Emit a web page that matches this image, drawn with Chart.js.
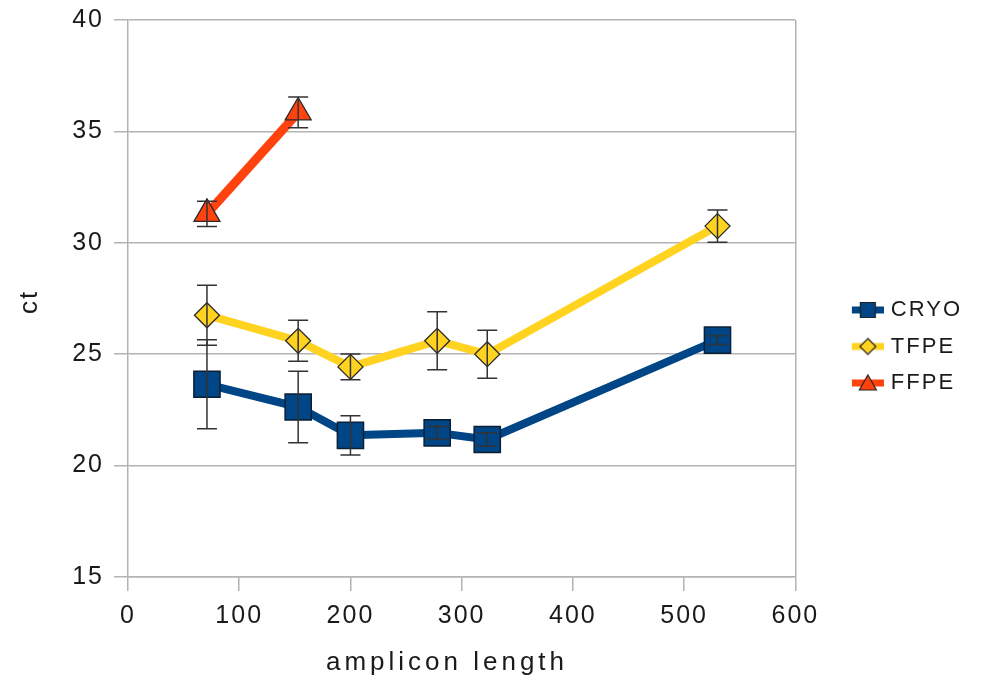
<!DOCTYPE html>
<html>
<head>
<meta charset="utf-8">
<title>ct vs amplicon length</title>
<script src="https://cdn.jsdelivr.net/npm/chart.js@4.4.1/dist/chart.umd.min.js"></script>
<style>
  html, body { margin: 0; padding: 0; background: #ffffff; }
  #wrap { width: 989px; height: 680px; }
</style>
</head>
<body>
<div id="wrap"><canvas id="chart" width="989" height="680"></canvas></div>
<script>
// amplicon lengths (bp) measured for each sample type
const ampliconLength = [71, 153, 200, 278, 323, 530];
const ffpeLength = [71, 153];

// mean ct values and their error (± half-range)
const cryoCt  = [23.65, 22.63, 21.36, 21.47, 21.17, 25.63];
const cryoErr = [2.0, 1.6, 0.88, 0.28, 0.3, 0.2];
const tfpeCt  = [26.75, 25.6, 24.43, 25.6, 25.0, 30.75];
const tfpeErr = [1.35, 0.92, 0.58, 1.3, 1.08, 0.72];
const ffpeCt  = [31.3, 35.85];
const ffpeErr = [0.57, 0.69];

const seriesNames = ['CRYO', 'TFPE', 'FFPE'];
const xTicks = [0, 100, 200, 300, 400, 500, 600];
const yTicks = [15, 20, 25, 30, 35, 40];

const FONT = '"Liberation Sans", Arial, sans-serif';
const INK = '#1a1a1a';
const GRID = '#b3b3b3';
const COLORS = { cryo: '#004586', tfpe: '#ffd320', ffpe: '#ff420e' };

Chart.defaults.font.family = FONT;
Chart.defaults.color = INK;

const toPoints = (xs, ys) => xs.map((x, i) => ({ x: x, y: ys[i] }));

// small line + marker swatch used as the legend symbol
function legendSwatch(color, shape) {
  const cv = document.createElement('canvas');
  cv.width = 78; cv.height = 22;
  const g = cv.getContext('2d');
  g.fillStyle = color;
  g.fillRect(46, 7.5, 32, 7);
  const cx = 62, cy = 11;
  g.beginPath();
  if (shape === 'rect') {
    g.rect(cx - 7.5, cy - 7.5, 15, 15);
  } else if (shape === 'rectRot') {
    g.moveTo(cx, cy - 8); g.lineTo(cx + 8, cy); g.lineTo(cx, cy + 8); g.lineTo(cx - 8, cy); g.closePath();
  } else {
    g.moveTo(cx, cy - 8); g.lineTo(cx + 8.5, cy + 7); g.lineTo(cx - 8.5, cy + 7); g.closePath();
  }
  g.fillStyle = color;
  g.fill();
  g.lineWidth = 1.2;
  g.strokeStyle = '#222222';
  g.stroke();
  return cv;
}

const swatches = [
  legendSwatch(COLORS.cryo, 'rect'),
  legendSwatch(COLORS.tfpe, 'rectRot'),
  legendSwatch(COLORS.ffpe, 'triangle')
];

// wider glyph spacing for all canvas text
const spacing = {
  id: 'spacing',
  beforeLayout(c) { c.ctx.letterSpacing = '2px'; },
  beforeDraw(c) { c.ctx.letterSpacing = '2px'; }
};

// vertical error bars with caps, placed through the y scale
const errorBars = {
  id: 'errorBars',
  afterDatasetsDraw(c) {
    const g = c.ctx, ys = c.scales.y;
    g.save();
    g.strokeStyle = '#333333';
    g.lineWidth = 1.5;
    c.data.datasets.forEach((ds, i) => {
      const meta = c.getDatasetMeta(i);
      if (meta.hidden || !ds.errors) return;
      ds.errors.forEach((e, j) => {
        const el = meta.data[j];
        const v = ds.data[j].y;
        const top = ys.getPixelForValue(v + e);
        const bot = ys.getPixelForValue(v - e);
        g.beginPath();
        g.moveTo(el.x, top); g.lineTo(el.x, bot);
        g.moveTo(el.x - 10, top); g.lineTo(el.x + 10, top);
        g.moveTo(el.x - 10, bot); g.lineTo(el.x + 10, bot);
        g.stroke();
      });
    });
    g.restore();
  }
};

// axis titles with extra tracking
const axisTitles = {
  id: 'axisTitles',
  afterDraw(c) {
    const g = c.ctx;
    g.save();
    g.fillStyle = INK;
    g.font = '26px ' + FONT;
    g.textAlign = 'center';
    g.textBaseline = 'middle';
    g.letterSpacing = '4px';
    g.fillText(c.options.scales.x.title.text, 447, 663);
    g.letterSpacing = '2px';
    g.translate(30, 302);
    g.rotate(-Math.PI / 2);
    g.fillText(c.options.scales.y.title.text, 0, 0);
    g.restore();
  }
};

new Chart(document.getElementById('chart'), {
  type: 'line',
  data: {
    datasets: [
      {
        label: seriesNames[0],
        data: toPoints(ampliconLength, cryoCt),
        errors: cryoErr,
        borderColor: COLORS.cryo,
        backgroundColor: COLORS.cryo,
        borderWidth: 8,
        borderJoinStyle: 'round',
        pointStyle: 'rect',
        pointRadius: 18.5,
        pointHoverRadius: 18.5,
        pointBackgroundColor: COLORS.cryo,
        pointBorderColor: '#0d1f33',
        pointBorderWidth: 1.5
      },
      {
        label: seriesNames[1],
        data: toPoints(ampliconLength, tfpeCt),
        errors: tfpeErr,
        borderColor: COLORS.tfpe,
        backgroundColor: COLORS.tfpe,
        borderWidth: 8,
        borderJoinStyle: 'round',
        pointStyle: 'rectRot',
        pointRadius: 12.5,
        pointHoverRadius: 12.5,
        pointBackgroundColor: COLORS.tfpe,
        pointBorderColor: '#2a2a2a',
        pointBorderWidth: 1.3
      },
      {
        label: seriesNames[2],
        data: toPoints(ffpeLength, ffpeCt),
        errors: ffpeErr,
        borderColor: COLORS.ffpe,
        backgroundColor: COLORS.ffpe,
        borderWidth: 9,
        borderJoinStyle: 'round',
        pointStyle: 'triangle',
        pointRadius: 15,
        pointHoverRadius: 15,
        pointBackgroundColor: COLORS.ffpe,
        pointBorderColor: '#2a2a2a',
        pointBorderWidth: 1.3
      }
    ]
  },
  options: {
    responsive: false,
    animation: false,
    devicePixelRatio: 1,
    layout: { padding: { left: 0, top: 20, right: 17, bottom: 7 } },
    elements: { line: { tension: 0 } },
    plugins: {
      tooltip: { enabled: false },
      legend: {
        position: 'right',
        labels: {
          usePointStyle: true,
          pointStyleWidth: 70,
          padding: 14.5,
          color: INK,
          font: { size: 22, family: FONT },
          generateLabels(c) {
            return c.data.datasets.map((ds, i) => ({
              text: ds.label,
              pointStyle: swatches[i],
              fillStyle: ds.borderColor,
              strokeStyle: ds.borderColor,
              lineWidth: 0,
              hidden: !c.isDatasetVisible(i),
              datasetIndex: i,
              fontColor: INK
            }));
          }
        }
      }
    },
    scales: {
      x: {
        type: 'linear',
        min: 0,
        max: 600,
        title: { display: false, text: 'amplicon length' },
        afterBuildTicks(s) { s.ticks = xTicks.map(v => ({ value: v })); },
        afterFit(s) { s.height = 96; },
        grid: {
          drawOnChartArea: true,
          color: ctx => (ctx.tick && ctx.tick.value === 600 ? GRID : 'rgba(0,0,0,0)'),
          tickColor: GRID,
          tickLength: 14,
          lineWidth: 1.5
        },
        border: { display: true, color: GRID, width: 1.5 },
        ticks: { padding: 10, color: INK, font: { size: 25 } }
      },
      y: {
        type: 'linear',
        min: 15,
        max: 40,
        title: { display: false, text: 'ct' },
        afterBuildTicks(s) { s.ticks = yTicks.map(v => ({ value: v })); },
        afterFit(s) { s.width = 128; s.paddingTop = 0; s.paddingBottom = 0; },
        grid: { color: GRID, tickColor: GRID, tickLength: 14, lineWidth: 1.5 },
        border: { display: true, color: GRID, width: 1.5 },
        ticks: { padding: 10, color: INK, font: { size: 25 } }
      }
    }
  },
  plugins: [spacing, errorBars, axisTitles]
});
</script>
</body>
</html>
